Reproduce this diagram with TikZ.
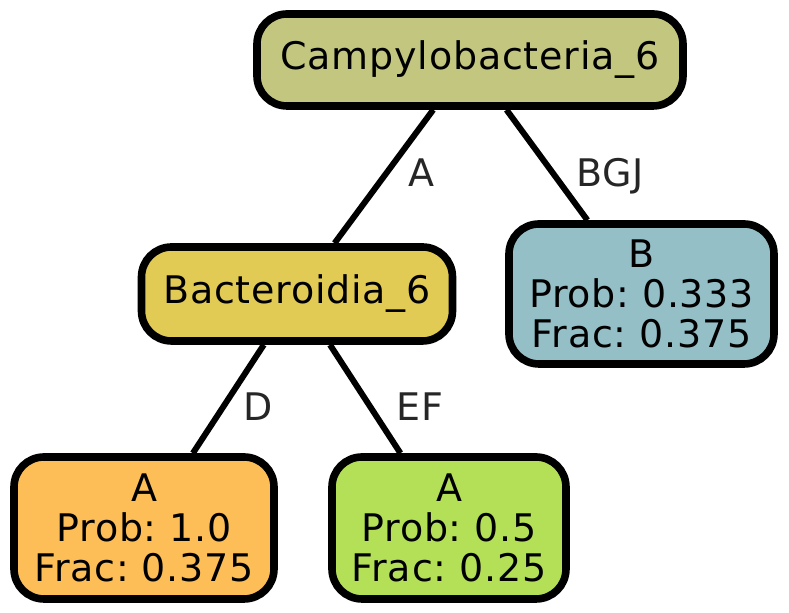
\documentclass[tikz,border=0pt]{standalone}
\usepackage{fontspec}
\setmainfont{DejaVu Sans}[LetterSpace=2]
\frenchspacing
\definecolor{campycol}{HTML}{C3C67F}
\definecolor{bactcol}{HTML}{E1CB55}
\definecolor{bcol}{HTML}{94BFC7}
\definecolor{aleftcol}{HTML}{FDBE57}
\definecolor{amidcol}{HTML}{B4E057}
\begin{document}
\begin{tikzpicture}[x=0.5pt,y=-0.5pt,font=\fontsize{19}{20}\selectfont,
		box/.style={draw,line width=3.8pt,rounded corners=15pt,align=center,inner sep=0pt},
		link/.style={line width=3pt},
		edgelabel/.style={text=black!85,anchor=base}]
	\useasboundingbox (0,0) rectangle (789,613);

	\node[box,fill=campycol,minimum width=213pt,minimum height=46pt] (campy) at (470,60) {Campylobacteria\_6};
	\node[box,fill=bactcol,minimum width=155.5pt,minimum height=47pt] (bact) at (297,294) {Bacteroidia\_6};
	\node[box,fill=bcol,minimum width=132.5pt,minimum height=70pt] (leafb) at (641.5,294) {B\\Prob: 0.333\\Frac: 0.375};
	\node[box,fill=aleftcol,minimum width=130pt,minimum height=71pt] (leafa) at (144,528) {A\\Prob: 1.0\\Frac: 0.375};
	\node[box,fill=amidcol,minimum width=117pt,minimum height=71pt] (leafc) at (449,528) {A\\Prob: 0.5\\Frac: 0.25};

	\draw[link] (campy) -- (bact);
	\draw[link] (campy) -- (leafb);
	\draw[link] (bact) -- (leafa);
	\draw[link] (bact) -- (leafc);

	\node[edgelabel] (lA) at (421,187) {A};
	\node[edgelabel] (lBGJ) at (610,187) {BGJ};
	\node[edgelabel] (lD) at (258,421) {D};
	\node[edgelabel] (lEF) at (420,421) {EF};
\end{tikzpicture}
\end{document}
